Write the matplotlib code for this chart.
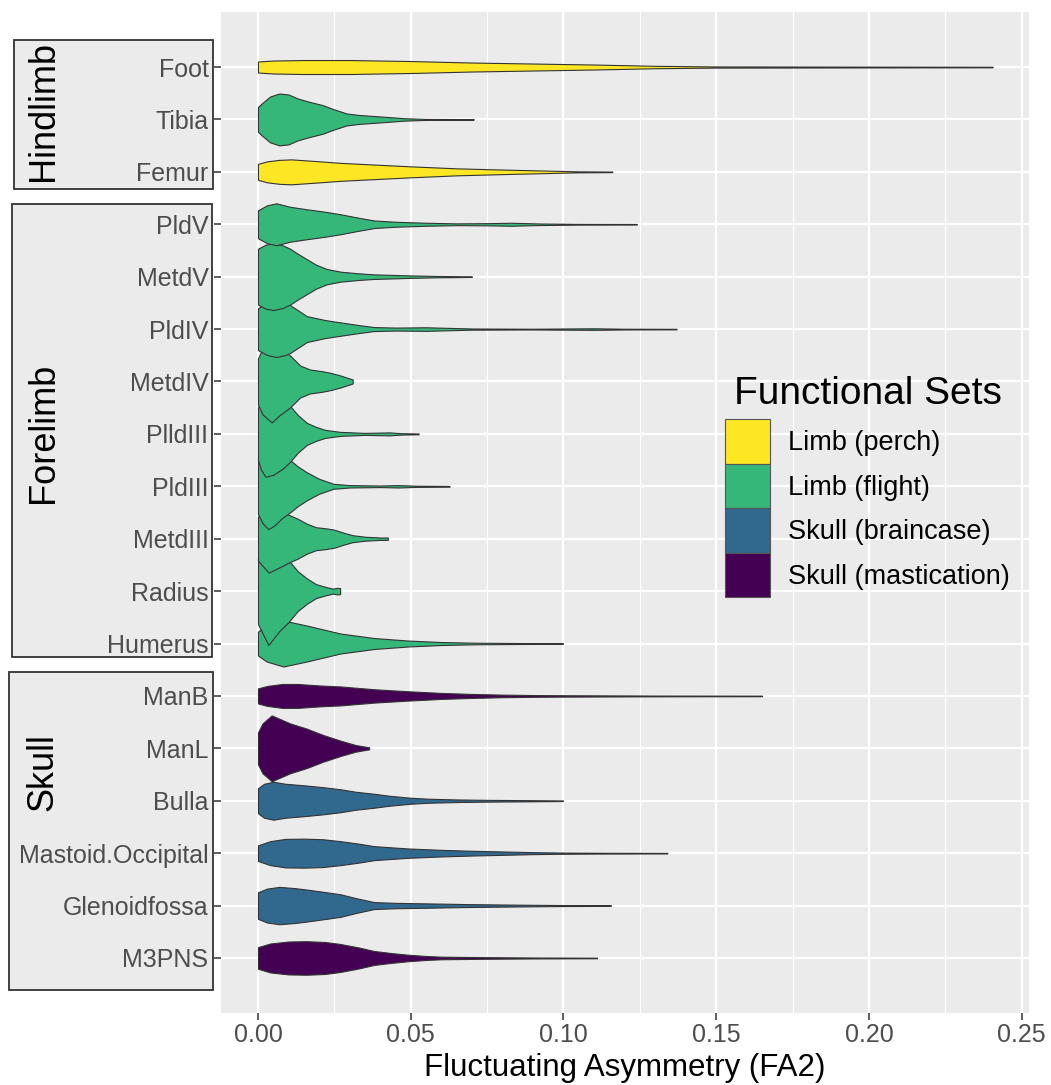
import matplotlib
matplotlib.use("Agg")
import matplotlib.pyplot as plt
from matplotlib.patches import Patch, Rectangle

plt.rcParams["font.family"] = ["Liberation Sans", "DejaVu Sans"]

# categories from bottom to top of the chart
CATEGORIES = [
    "M3PNS", "Glenoidfossa", "Mastoid.Occipital", "Bulla", "ManL", "ManB",
    "Humerus", "Radius", "MetdIII", "PldIII", "PlldIII", "MetdIV",
    "PldIV", "MetdV", "PldV", "Femur", "Tibia", "Foot",
]
FUNCTIONAL_SET = [
    "Skull (mastication)", "Skull (braincase)", "Skull (braincase)",
    "Skull (braincase)", "Skull (mastication)", "Skull (mastication)",
    "Limb (flight)", "Limb (flight)", "Limb (flight)", "Limb (flight)",
    "Limb (flight)", "Limb (flight)", "Limb (flight)", "Limb (flight)",
    "Limb (flight)", "Limb (perch)", "Limb (flight)", "Limb (perch)",
]
SET_NAMES = ["Limb (perch)", "Limb (flight)", "Skull (braincase)", "Skull (mastication)"]
SET_COLORS = ["#FDE725", "#35B779", "#31688E", "#440154"]

X_TICKS = [0.0, 0.05, 0.10, 0.15, 0.20, 0.25]

# violin outlines: FA2 value -> relative density (half width)
FOOT_FA = [0.0, 0.005, 0.015, 0.03, 0.05, 0.07, 0.09, 0.11, 0.13, 0.15, 0.18, 0.2405]
FOOT_D = [5.5, 6.5, 7.0, 7.0, 6.0, 4.5, 3.5, 2.5, 1.2, 0.6, 0.5, 0.3]
TIBIA_FA = [0.0, 0.002, 0.004, 0.007, 0.010, 0.013, 0.017, 0.021, 0.025, 0.029, 0.033, 0.040, 0.048, 0.055, 0.0706]
TIBIA_D = [12.5, 18, 23, 26, 25, 21, 17.5, 14.5, 10, 6, 4.5, 3, 1.2, 0.5, 0.3]
FEMUR_FA = [0.0, 0.003, 0.007, 0.011, 0.018, 0.027, 0.04, 0.05, 0.065, 0.08, 0.095, 0.105, 0.116]
FEMUR_D = [8, 10.5, 12, 12.5, 11, 9, 7, 5.5, 3.5, 2.3, 1.2, 0.5, 0.3]
PLDV_FA = [0.0, 0.003, 0.006, 0.0105, 0.016, 0.022, 0.027, 0.033, 0.038, 0.045, 0.055, 0.065, 0.075, 0.083, 0.092, 0.105, 0.124]
PLDV_D = [14, 19, 21, 17.5, 15, 12.5, 10, 6.5, 3.8, 2.5, 1.5, 0.9, 1.1, 1.5, 0.8, 0.4, 0.3]
METDV_FA = [0.0, 0.0025, 0.005, 0.008, 0.0105, 0.013, 0.016, 0.019, 0.0225, 0.027, 0.033, 0.038, 0.049, 0.058, 0.070]
METDV_D = [28, 32, 33.5, 31.5, 28, 23, 17.5, 12, 7.7, 5, 3.3, 2.3, 1.3, 0.7, 0.3]
PLDIV_FA = [0.0, 0.003, 0.006, 0.009, 0.0105, 0.016, 0.022, 0.027, 0.033, 0.038, 0.045, 0.055, 0.060, 0.070, 0.09, 0.11, 0.12, 0.137]
PLDIV_D = [21, 26, 28, 26, 24, 13, 9, 6.7, 4, 2, 1.5, 1.8, 1.4, 0.6, 0.4, 0.8, 0.4, 0.3]
METDIV_FA = [0.0, 0.0015, 0.0045, 0.007, 0.0105, 0.0138, 0.017, 0.021, 0.024, 0.027, 0.030, 0.031]
METDIV_D = [23, 33, 41, 34, 26, 16, 12, 10.3, 8.5, 6, 3, 2]
PLLDIII_FA = [0.0, 0.001, 0.0025, 0.005, 0.008, 0.0105, 0.013, 0.016, 0.019, 0.022, 0.027, 0.035, 0.043, 0.047, 0.0526]
PLLDIII_D = [26, 36, 43, 41, 35, 28, 19, 11, 7, 4, 2, 1, 1.5, 0.7, 0.4]
PLDIII_FA = [0.0, 0.0015, 0.0034, 0.0055, 0.0078, 0.011, 0.013, 0.016, 0.020, 0.0247, 0.03, 0.04, 0.046, 0.052, 0.0627]
PLDIII_D = [28, 37, 43, 39, 32, 25, 20, 14, 7.5, 2.5, 1.2, 0.8, 1.2, 0.6, 0.4]
METDIII_FA = [0.0, 0.0035, 0.0075, 0.010, 0.013, 0.016, 0.019, 0.022, 0.025, 0.028, 0.031, 0.035, 0.040, 0.0425]
METDIII_D = [22, 34, 28, 24, 20, 15, 11.5, 10.5, 9, 6, 3.5, 2, 1.2, 1.2]
RADIUS_FA = [0.0, 0.0034, 0.007, 0.010, 0.013, 0.016, 0.019, 0.022, 0.0245, 0.026, 0.0269]
RADIUS_D = [33, 54, 40, 31, 20, 12.7, 7, 4.3, 2.5, 3.3, 3]
HUMERUS_FA = [0.0, 0.0028, 0.0083, 0.016, 0.027, 0.038, 0.049, 0.06, 0.071, 0.085, 0.0998]
HUMERUS_D = [12, 18, 23, 18, 10, 5.5, 3, 1.5, 0.8, 0.5, 0.3]
MANB_FA = [0.0, 0.003, 0.008, 0.013, 0.02, 0.027, 0.038, 0.049, 0.06, 0.07, 0.08, 0.09, 0.1, 0.13, 0.165]
MANB_D = [7.5, 10, 12, 12, 10.5, 9.5, 6.7, 4.7, 3, 2, 1.3, 0.9, 0.7, 0.4, 0.3]
MANL_FA = [0.0, 0.0015, 0.0045, 0.0075, 0.0105, 0.016, 0.0214, 0.027, 0.032, 0.0364]
MANL_D = [16, 25, 33, 29, 25, 19.7, 13.3, 7.7, 3.3, 1]
BULLA_FA = [0.0, 0.002, 0.005, 0.009, 0.015, 0.021, 0.027, 0.032, 0.038, 0.043, 0.05, 0.056, 0.065, 0.075, 0.088, 0.0998]
BULLA_D = [12.5, 17, 19, 17, 15.5, 13.7, 11.5, 9, 7, 5, 3, 2, 1.3, 0.9, 0.6, 0.3]
MASTOID_FA = [0.0, 0.004, 0.009, 0.015, 0.021, 0.027, 0.033, 0.038, 0.049, 0.06, 0.07, 0.08, 0.09, 0.1, 0.115, 0.134]
MASTOID_D = [7.8, 12, 14.3, 14.5, 14, 12, 9.5, 7, 4.7, 3.3, 2.4, 1.7, 1.0, 0.6, 0.4, 0.3]
GLENOID_FA = [0.0, 0.003, 0.007, 0.012, 0.016, 0.022, 0.027, 0.032, 0.038, 0.045, 0.055, 0.07, 0.085, 0.1, 0.1155]
GLENOID_D = [13.3, 17, 18.7, 17.5, 16, 13.5, 11.3, 7.5, 3.5, 2.7, 2.2, 1.4, 0.9, 0.5, 0.3]
M3PNS_FA = [0.0, 0.004, 0.01, 0.016, 0.022, 0.027, 0.033, 0.038, 0.044, 0.049, 0.055, 0.06, 0.075, 0.09, 0.111]
M3PNS_D = [10.8, 14.5, 16.5, 16.8, 16, 14, 10.5, 7, 4.8, 3.3, 2, 1.3, 0.8, 0.5, 0.3]

PROFILES = {
    "Foot": (FOOT_FA, FOOT_D), "Tibia": (TIBIA_FA, TIBIA_D), "Femur": (FEMUR_FA, FEMUR_D),
    "PldV": (PLDV_FA, PLDV_D), "MetdV": (METDV_FA, METDV_D), "PldIV": (PLDIV_FA, PLDIV_D),
    "MetdIV": (METDIV_FA, METDIV_D), "PlldIII": (PLLDIII_FA, PLLDIII_D),
    "PldIII": (PLDIII_FA, PLDIII_D), "MetdIII": (METDIII_FA, METDIII_D),
    "Radius": (RADIUS_FA, RADIUS_D), "Humerus": (HUMERUS_FA, HUMERUS_D),
    "ManB": (MANB_FA, MANB_D), "ManL": (MANL_FA, MANL_D), "Bulla": (BULLA_FA, BULLA_D),
    "Mastoid.Occipital": (MASTOID_FA, MASTOID_D), "Glenoidfossa": (GLENOID_FA, GLENOID_D),
    "M3PNS": (M3PNS_FA, M3PNS_D),
}

GROUP_NAMES = ["Hindlimb", "Forelimb", "Skull"]

DENS_SCALE = 1 / 52.5  # density units -> category spacing
W, H = 1051, 1085

fig = plt.figure(figsize=(W / 100, H / 100), dpi=100)
ax = fig.add_axes([221 / W, 1 - 1013 / H, (1029 - 221) / W, (1013 - 12) / H])
ax.set_facecolor("#EBEBEB")

color_of = dict(zip(SET_NAMES, SET_COLORS))
for i, (cat, fset) in enumerate(zip(CATEGORIES, FUNCTIONAL_SET)):
    fa, dens = PROFILES[cat]
    half = [d * DENS_SCALE for d in dens]
    ax.fill_between(
        fa,
        [i - h for h in half],
        [i + h for h in half],
        facecolor=color_of[fset],
        edgecolor="#333333",
        linewidth=0.8,
        zorder=3 + i * 0.01,
    )

ax.set_xlim(-0.0121, 0.2524)
ax.set_ylim(-1.05, 18.05)
ax.set_xticks(X_TICKS)
ax.set_xticklabels([f"{t:.2f}" for t in X_TICKS])
ax.set_xticks([0.025, 0.075, 0.125, 0.175, 0.225], minor=True)
ax.set_yticks(range(len(CATEGORIES)))
ax.set_yticklabels(CATEGORIES)
ax.grid(which="major", color="white", linewidth=1.6, zorder=1)
ax.grid(which="minor", axis="x", color="white", linewidth=0.8, zorder=1)
ax.set_axisbelow(True)
for s in ax.spines.values():
    s.set_visible(False)
ax.tick_params(axis="both", which="major", length=5, width=1.1, color="#333333",
               labelcolor="#4D4D4D", labelsize=18)
ax.tick_params(axis="y", pad=4)
ax.tick_params(axis="x", pad=2)
ax.tick_params(which="minor", length=0)
ax.set_xlabel("Fluctuating Asymmetry (FA2)", fontsize=22.5, color="black", labelpad=4.5)

# group boxes on the left (pixel boxes and label centres)
box_px = {"Hindlimb": (14, 40, 213, 189), "Forelimb": (12, 204, 212, 657), "Skull": (9, 672, 213, 990)}
label_y = {"Hindlimb": 111, "Forelimb": 433, "Skull": 772}
for name in GROUP_NAMES:
    x0, y0, x1, y1 = box_px[name]
    fig.patches.append(Rectangle((x0 / W, 1 - y1 / H), (x1 - x0) / W, (y1 - y0) / H,
                                 transform=fig.transFigure, facecolor="#EBEBEB",
                                 edgecolor="#333333", linewidth=1.3, zorder=-1))
    fig.text(43 / W, 1 - label_y[name] / H, name, rotation=90, fontsize=26,
             ha="center", va="center", color="black")

handles = [Patch(facecolor=c, edgecolor="#555555", linewidth=0.8) for c in SET_COLORS]
leg = ax.legend(handles, SET_NAMES, title="Functional Sets", loc="upper left",
                bbox_to_anchor=(720 / W, 1 - 371 / H), bbox_transform=fig.transFigure,
                frameon=False, fontsize=19.5, title_fontsize=28, handlelength=1.65,
                handleheight=2.15, labelspacing=0.0, handletextpad=0.65,
                borderaxespad=0, borderpad=0.2)
leg._legend_box.sep = 5
leg.set_zorder(10)

fig.savefig("out.png", dpi=100)
